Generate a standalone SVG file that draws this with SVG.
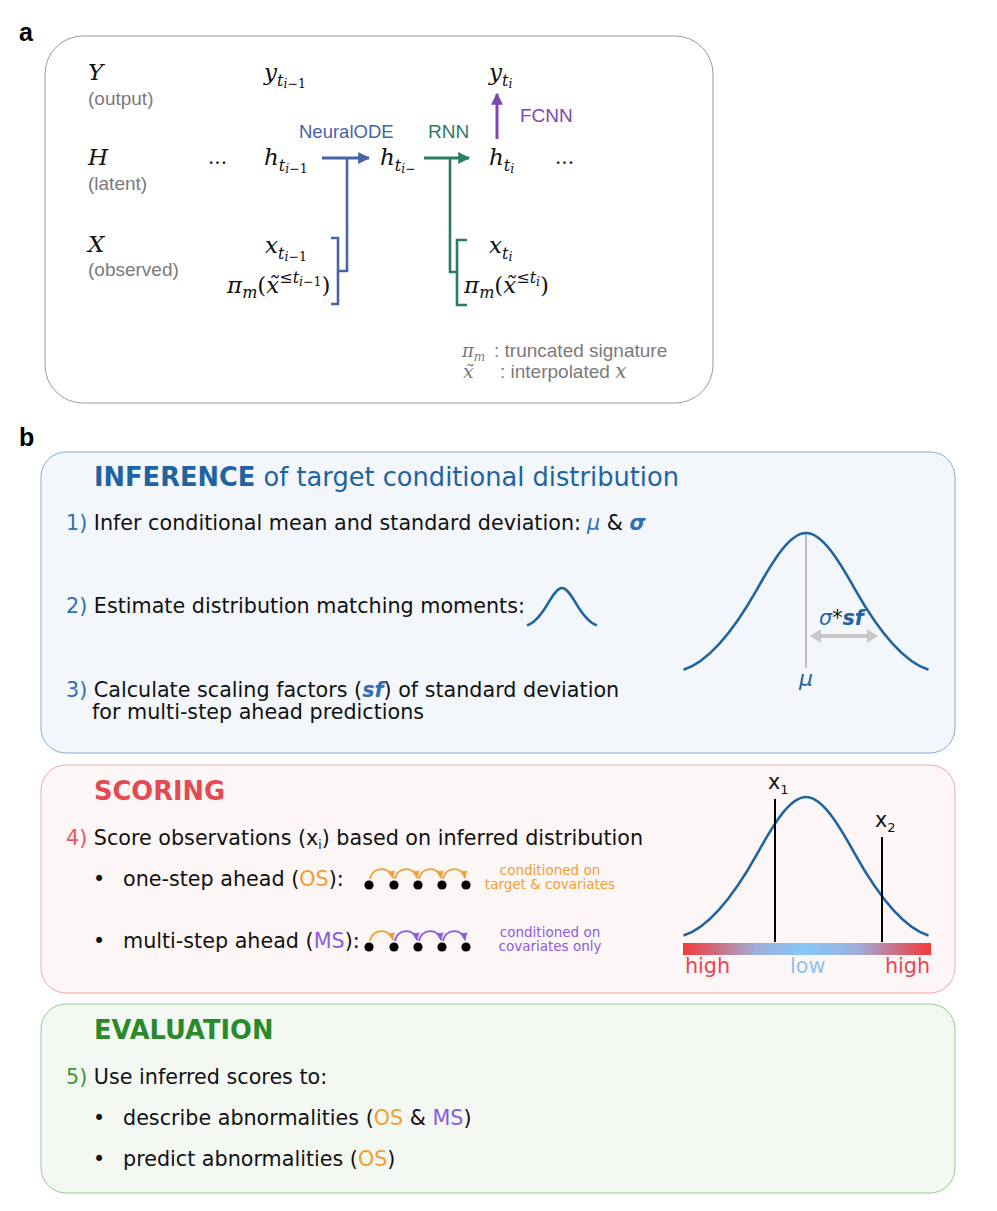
<svg xmlns="http://www.w3.org/2000/svg" width="997" height="1211" viewBox="0 0 997 1211">
<style>
.pl{font-family:"Liberation Sans",Arial,sans-serif;font-weight:bold;font-size:25px;fill:#000}
.m{font-family:"DejaVu Serif",serif;font-style:italic;font-size:23px;fill:#111}
.s1{font-size:16px}
.s2{font-size:12.5px}
.u{font-style:normal}
.lb{font-family:"Liberation Sans",Arial,sans-serif;font-size:19px;fill:#7a7a7a}
.t{font-family:"DejaVu Sans",sans-serif;font-size:20.7px;fill:#111}
.h{font-family:"DejaVu Sans",sans-serif;font-size:25.7px;fill:#1f64a0}
.b{font-weight:bold}
.sm{font-family:"DejaVu Sans",sans-serif;font-size:13.5px;text-anchor:middle}
.bell{fill:none;stroke:#1f64a0;stroke-width:2.6}
</style>
<defs>
<marker id="mb" viewBox="0 0 10 10" refX="9" refY="5" markerWidth="4" markerHeight="4" orient="auto"><path d="M0,0L10,5L0,10z" fill="#4a63a6"/></marker>
<marker id="mg" viewBox="0 0 10 10" refX="9" refY="5" markerWidth="4" markerHeight="4" orient="auto"><path d="M0,0L10,5L0,10z" fill="#2a7d63"/></marker>
<marker id="mp" viewBox="0 0 10 10" refX="9" refY="5" markerWidth="4" markerHeight="4" orient="auto"><path d="M0,0L10,5L0,10z" fill="#7d48b0"/></marker>
<marker id="mo" viewBox="0 0 10 10" refX="8" refY="5" markerWidth="5" markerHeight="5" orient="auto"><path d="M0,1L9,5L0,9z" fill="#f0a035"/></marker>
<marker id="mv" viewBox="0 0 10 10" refX="8" refY="5" markerWidth="5" markerHeight="5" orient="auto"><path d="M0,1L9,5L0,9z" fill="#8b5cdc"/></marker>
<linearGradient id="grad" x1="0" y1="0" x2="1" y2="0">
<stop offset="0" stop-color="#f23b3b"/>
<stop offset="0.1" stop-color="#d8606c"/>
<stop offset="0.3" stop-color="#9eb0dc"/>
<stop offset="0.5" stop-color="#86c6f7"/>
<stop offset="0.7" stop-color="#9eb0dc"/>
<stop offset="0.9" stop-color="#d8606c"/>
<stop offset="1" stop-color="#f23b3b"/>
</linearGradient>
</defs>
<rect width="997" height="1211" fill="#fff"/>

<text class="pl" x="19" y="41">a</text>
<text class="pl" x="19" y="446">b</text>

<g id="panel-a">
<rect x="45" y="36" width="668" height="367" rx="38" fill="#fff" stroke="#9a9a9a" stroke-width="1"/>
</g>

<g id="row-labels">
<text class="m" x="88" y="80">Y</text>
<text class="lb" x="88" y="105">(output)</text>
<text class="m" x="88" y="165">H</text>
<text class="lb" x="88" y="190">(latent)</text>
<text class="m" x="88" y="252">X</text>
<text class="lb" x="88" y="276">(observed)</text>
</g>

<g id="node-y-prev"><text class="m" x="264" y="80">y<tspan class="s1" dy="6">t</tspan><tspan class="s2" dy="2">i<tspan class="u">−1</tspan></tspan></text></g>
<g id="node-y-cur"><text class="m" x="489" y="80">y<tspan class="s1" dy="6">t</tspan><tspan class="s2" dy="2">i</tspan></text></g>
<g id="node-dots-left"><text class="m u" x="208" y="164" style="font-size:20px">...</text></g>
<g id="node-h-prev"><text class="m" x="264" y="165">h<tspan class="s1" dy="6">t</tspan><tspan class="s2" dy="2">i<tspan class="u">−1</tspan></tspan></text></g>
<g id="node-h-minus"><text class="m" x="380" y="165">h<tspan class="s1" dy="6">t</tspan><tspan class="s2" dy="2">i<tspan class="u">−</tspan></tspan></text></g>
<g id="node-h-cur"><text class="m" x="489" y="165">h<tspan class="s1" dy="6">t</tspan><tspan class="s2" dy="2">i</tspan></text></g>
<g id="node-dots-right"><text class="m u" x="555" y="164" style="font-size:20px">...</text></g>
<g id="node-x-prev"><text class="m" x="265" y="253">x<tspan class="s1" dy="6">t</tspan><tspan class="s2" dy="2">i<tspan class="u">−1</tspan></tspan></text></g>
<g id="node-x-cur"><text class="m" x="489" y="253">x<tspan class="s1" dy="6">t</tspan><tspan class="s2" dy="2">i</tspan></text></g>
<g id="node-sig-prev"><text class="m" x="227" y="293">π<tspan class="s1" dy="5">m</tspan><tspan class="u" dy="-5">(</tspan>x̃<tspan class="s1" dy="-10"><tspan class="u">≤</tspan>t</tspan><tspan class="s2" dy="3">i<tspan class="u">−1</tspan></tspan><tspan class="u" dy="7">)</tspan></text></g>
<g id="node-sig-cur"><text class="m" x="464" y="293">π<tspan class="s1" dy="5">m</tspan><tspan class="u" dy="-5">(</tspan>x̃<tspan class="s1" dy="-10"><tspan class="u">≤</tspan>t</tspan><tspan class="s2" dy="3">i</tspan><tspan class="u" dy="7">)</tspan></text></g>

<g id="edge-labels">
<text class="lb" x="299" y="138" style="fill:#4a63a6;font-size:18.5px">NeuralODE</text>
<text class="lb" x="428" y="138" style="fill:#2a7d63">RNN</text>
<text class="lb" x="520" y="122" style="fill:#7d48b0">FCNN</text>
</g>

<g id="connectors" fill="none" stroke-width="3">
<path d="M322,158H369" stroke="#4a63a6" marker-end="url(#mb)"/>
<path d="M347,158V271H338M331,238H338V304H331" stroke="#4a63a6" stroke-width="2.6"/>
<path d="M424,158H469" stroke="#2a7d63" marker-end="url(#mg)"/>
<path d="M450,158V272H457M467,240H457V305H467" stroke="#2a7d63" stroke-width="2.6"/>
<path d="M497,139V94" stroke="#7d48b0" marker-end="url(#mp)"/>
</g>

<g id="legend">
<text class="m" x="462" y="357" style="font-size:18px;fill:#777">π<tspan dy="4" style="font-size:12px">m</tspan></text>
<text class="lb" x="494" y="357">: truncated signature</text>
<text class="m" x="463" y="378" style="font-size:19px;fill:#777">x̃</text>
<text class="lb" x="500" y="378">: interpolated <tspan class="m" style="font-size:20px;fill:#777">x</tspan></text>
</g>

<g id="box-inference">
<rect x="41" y="452" width="914" height="301" rx="25" fill="#f3f7fb" stroke="#86acd0" stroke-width="1"/>
<text class="h" x="94" y="486"><tspan class="b">INFERENCE</tspan> of target conditional distribution</text>
<text class="t" x="66" y="530"><tspan style="fill:#2f6fb3">1)</tspan> Infer conditional mean and standard deviation:</text>
<text class="t" x="587" y="530"><tspan style="fill:#2f6fb3;font-style:italic">μ</tspan> &amp; <tspan style="fill:#2f6fb3;font-style:italic;font-weight:bold">σ</tspan></text>
<text class="t" x="66" y="613"><tspan style="fill:#2f6fb3">2)</tspan> Estimate distribution matching moments:</text>
<path class="bell" d="M527,625.3 C534,623.1 541,615.2 548,603.3 C552.7,595.5 557.3,588 562,588 C566.7,588 571.3,595.5 576,603.3 C583,615.2 590,623.1 597,625.3"/>
<text class="t" x="66" y="697"><tspan style="fill:#2f6fb3">3)</tspan> Calculate scaling factors (<tspan style="fill:#2f6fb3;font-style:italic;font-weight:bold">sf</tspan>) of standard deviation</text>
<text class="t" x="92" y="719">for multi-step ahead predictions</text>
<path d="M806,533V668" stroke="#bdbdbd" stroke-width="2"/>
<path class="bell" d="M683.5,669.7 C708,661.9 732.5,632.6 757,589.3 C773.3,560.4 789.7,533 806,533 C822.3,533 838.7,560.4 855,589.3 C879.5,632.6 904,661.9 928.5,669.7"/>
<path d="M818,636H870" stroke="#c8c8c8" stroke-width="4"/>
<path d="M810,636L821,629V643z M878,636L867,629V643z" fill="#c8c8c8"/>
<text class="t" x="819" y="625" style="fill:#1f64a0;font-style:italic">σ<tspan style="fill:#111;font-style:normal">*</tspan><tspan class="b">sf</tspan></text>
<text class="t" x="799" y="686" style="fill:#1f64a0;font-style:italic;font-size:22px">μ</text>
</g>

<g id="box-scoring">
<rect x="41" y="765" width="914" height="228" rx="25" fill="#fdf6f6" stroke="#f0a8a8" stroke-width="1"/>
<text class="h b" x="94" y="800" style="fill:#e34a52">SCORING</text>
<text class="t" x="66" y="845"><tspan style="fill:#e8555c">4)</tspan> Score observations (x<tspan style="font-size:12px" dy="4">i</tspan><tspan dy="-4">) based on inferred distribution</tspan></text>
<text class="t" x="93" y="886">•</text>
<text class="t" x="123" y="886">one-step ahead (<tspan style="fill:#f0a035">OS</tspan>):</text>
<text class="t" x="93" y="948">•</text>
<text class="t" x="123" y="948">multi-step ahead (<tspan style="fill:#8b5cdc">MS</tspan>):</text>
<g fill="#000">
<circle cx="369" cy="885" r="4.6"/><circle cx="394" cy="885" r="4.6"/><circle cx="418" cy="885" r="4.6"/><circle cx="442" cy="885" r="4.6"/><circle cx="466" cy="885" r="4.6"/>
<circle cx="369" cy="947" r="4.6"/><circle cx="394" cy="947" r="4.6"/><circle cx="418" cy="947" r="4.6"/><circle cx="442" cy="947" r="4.6"/><circle cx="466" cy="947" r="4.6"/>
</g>
<g fill="none" stroke-width="1.8">
<path d="M370,879C372,866 390,866 393,878" stroke="#f0a035" marker-end="url(#mo)"/>
<path d="M395,879C397,866 415,866 417,878" stroke="#f0a035" marker-end="url(#mo)"/>
<path d="M419,879C421,866 439,866 441,878" stroke="#f0a035" marker-end="url(#mo)"/>
<path d="M443,879C445,866 463,866 465,878" stroke="#f0a035" marker-end="url(#mo)"/>
<path d="M370,941C372,928 390,928 393,940" stroke="#f0a035" marker-end="url(#mo)"/>
<path d="M395,941C397,928 415,928 417,940" stroke="#8b5cdc" marker-end="url(#mv)"/>
<path d="M419,941C421,928 439,928 441,940" stroke="#8b5cdc" marker-end="url(#mv)"/>
<path d="M443,941C445,928 463,928 465,940" stroke="#8b5cdc" marker-end="url(#mv)"/>
</g>
<text class="sm" x="550" y="875" style="fill:#f0a035">conditioned on</text>
<text class="sm" x="550" y="889" style="fill:#f0a035">target &amp; covariates</text>
<text class="sm" x="550" y="937" style="fill:#8b5cdc">conditioned on</text>
<text class="sm" x="550" y="951" style="fill:#8b5cdc">covariates only</text>
<path class="bell" d="M683.5,935.6 C708,927.7 732.5,898 757,854.1 C773.3,824.7 789.7,797 806,797 C822.3,797 838.7,824.7 855,854.1 C879.5,898 904,927.7 928.5,935.6"/>
<path d="M775,799V942M882,837V942" stroke="#000" stroke-width="2"/>
<text class="t" x="768" y="789">x<tspan style="font-size:13px" dy="5">1</tspan></text>
<text class="t" x="875" y="827">x<tspan style="font-size:13px" dy="5">2</tspan></text>
<rect x="683" y="943" width="248" height="12" fill="url(#grad)"/>
<text class="t" x="685" y="973" style="fill:#e8474f">high</text>
<text class="t" x="790" y="973" style="fill:#8ec3ee">low</text>
<text class="t" x="885" y="973" style="fill:#e8474f">high</text>
</g>

<g id="box-evaluation">
<rect x="41" y="1004" width="914" height="189" rx="25" fill="#f4f8f3" stroke="#98c898" stroke-width="1"/>
<text class="h b" x="94" y="1039" style="fill:#2a8a2a">EVALUATION</text>
<text class="t" x="66" y="1084"><tspan style="fill:#3a9a3a">5)</tspan> Use inferred scores to:</text>
<text class="t" x="93" y="1125">•</text>
<text class="t" x="123" y="1125">describe abnormalities (<tspan style="fill:#f0a035">OS</tspan> &amp; <tspan style="fill:#8b5cdc">MS</tspan>)</text>
<text class="t" x="93" y="1166">•</text>
<text class="t" x="123" y="1166">predict abnormalities (<tspan style="fill:#f0a035">OS</tspan>)</text>
</g>
</svg>
